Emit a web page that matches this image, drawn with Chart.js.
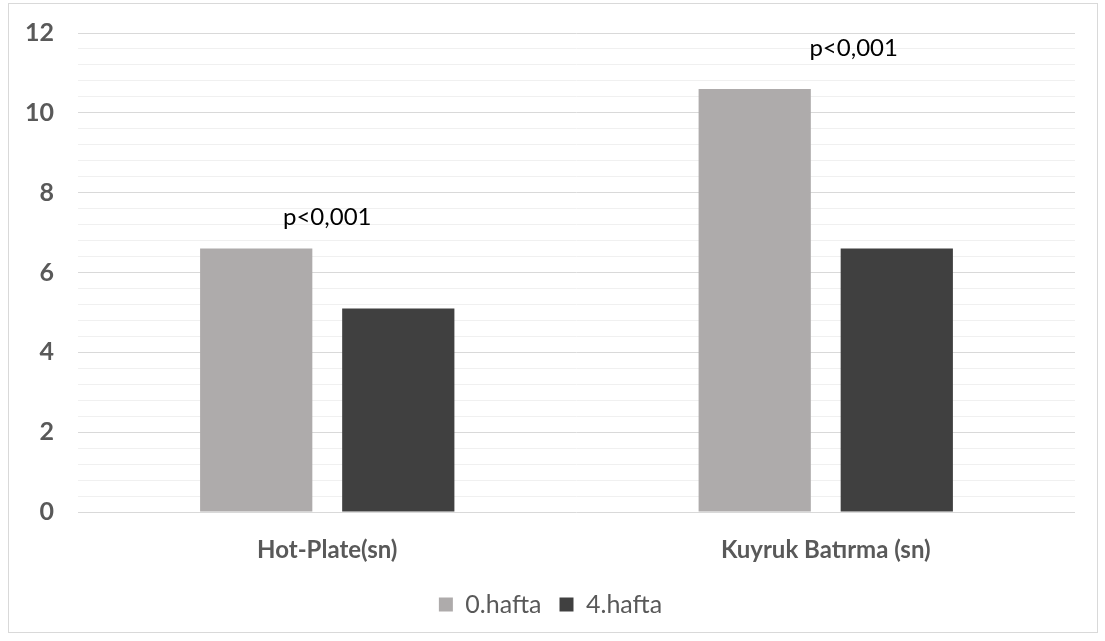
<!DOCTYPE html>
<html>
<head>
<meta charset="utf-8">
<script src="https://cdn.jsdelivr.net/npm/chart.js@4"></script>
<style>
  html, body { margin: 0; padding: 0; background: #fff; }
  #wrap { width: 1105px; height: 641px; }
</style>
</head>
<body>
<div id="wrap"><canvas id="myChart" width="1105" height="641"></canvas></div>
<script>
// data
const categories = ['Hot-Plate(sn)', 'Kuyruk Batırma (sn)'];
const week0 = [6.6, 10.6];
const week4 = [5.1, 6.6];
const seriesNames = ['0.hafta', '4.hafta'];
const yTicks = [0, 2, 4, 6, 8, 10, 12];
// p-value notes, placed in data units (category index, y value)
const notes = [
    {text: 'p<0,001', cat: 0, y: 7.38},
    {text: 'p<0,001', cat: 1.056, y: 11.62}
];

const fontFam = 'Lato, "Open Sans", "Liberation Sans", sans-serif';

const isMajor = v => yTicks.some(t => Math.abs(t - v) < 1e-6);

const frame = {
    id: 'frame',
    beforeDraw(chart) {
        const c = chart.ctx;
        c.save();
        c.fillStyle = '#fff';
        c.fillRect(0, 0, chart.width, chart.height);
        c.strokeStyle = '#d9d9d9';
        c.lineWidth = 1;
        c.strokeRect(8.5, 3.5, 1089, 629);
        c.restore();
    }
};

const noteText = {
    id: 'noteText',
    afterDatasetsDraw(chart) {
        const c = chart.ctx, xs = chart.scales.x, ys = chart.scales.y;
        c.save();
        c.font = '24px ' + fontFam;
        c.fillStyle = '#000';
        c.textAlign = 'center';
        c.textBaseline = 'middle';
        notes.forEach(n => {
            c.fillText(n.text, xs.getPixelForValue(n.cat), ys.getPixelForValue(n.y));
        });
        c.restore();
    }
};

const ctx = document.getElementById('myChart');
new Chart(ctx, {
    type: 'bar',
    data: {
        labels: categories,
        datasets: [
            {label: seriesNames[0], data: week0, backgroundColor: '#aeabab'},
            {label: seriesNames[1], data: week4, backgroundColor: '#404040'}
        ]
    },
    options: {
        responsive: false,
        animation: false,
        categoryPercentage: 0.57,
        barPercentage: 0.79,
        layout: {padding: {left: 26, right: 30, top: 33, bottom: 14}},
        plugins: {
            legend: {
                position: 'bottom',
                labels: {
                    font: {size: 25, family: fontFam},
                    color: '#595959',
                    boxWidth: 14,
                    boxHeight: 14,
                    padding: 18
                }
            },
            tooltip: {enabled: false}
        },
        scales: {
            x: {
                afterFit(s) { s.height = 62; s.paddingLeft = 0; s.paddingRight = 0; },
                grid: {display: false},
                border: {display: false},
                ticks: {font: {size: 24, weight: 'bold', family: fontFam}, color: '#595959', padding: 16}
            },
            y: {
                min: 0, max: 12,
                afterFit(s) { s.width = 52; s.paddingTop = 0; s.paddingBottom = 0; },
                border: {display: false},
                grid: {
                    drawTicks: false,
                    color: c => isMajor(c.tick.value) ? '#d9d9d9' : '#f0f0f0',
                    lineWidth: 1
                },
                ticks: {
                    stepSize: 0.4,
                    autoSkip: false,
                    padding: 24,
                    color: '#595959',
                    font: {size: 25, weight: 'bold', family: fontFam},
                    callback: v => isMajor(v) ? Math.round(v) : ''
                }
            }
        }
    },
    plugins: [frame, noteText]
});
</script>
</body>
</html>
